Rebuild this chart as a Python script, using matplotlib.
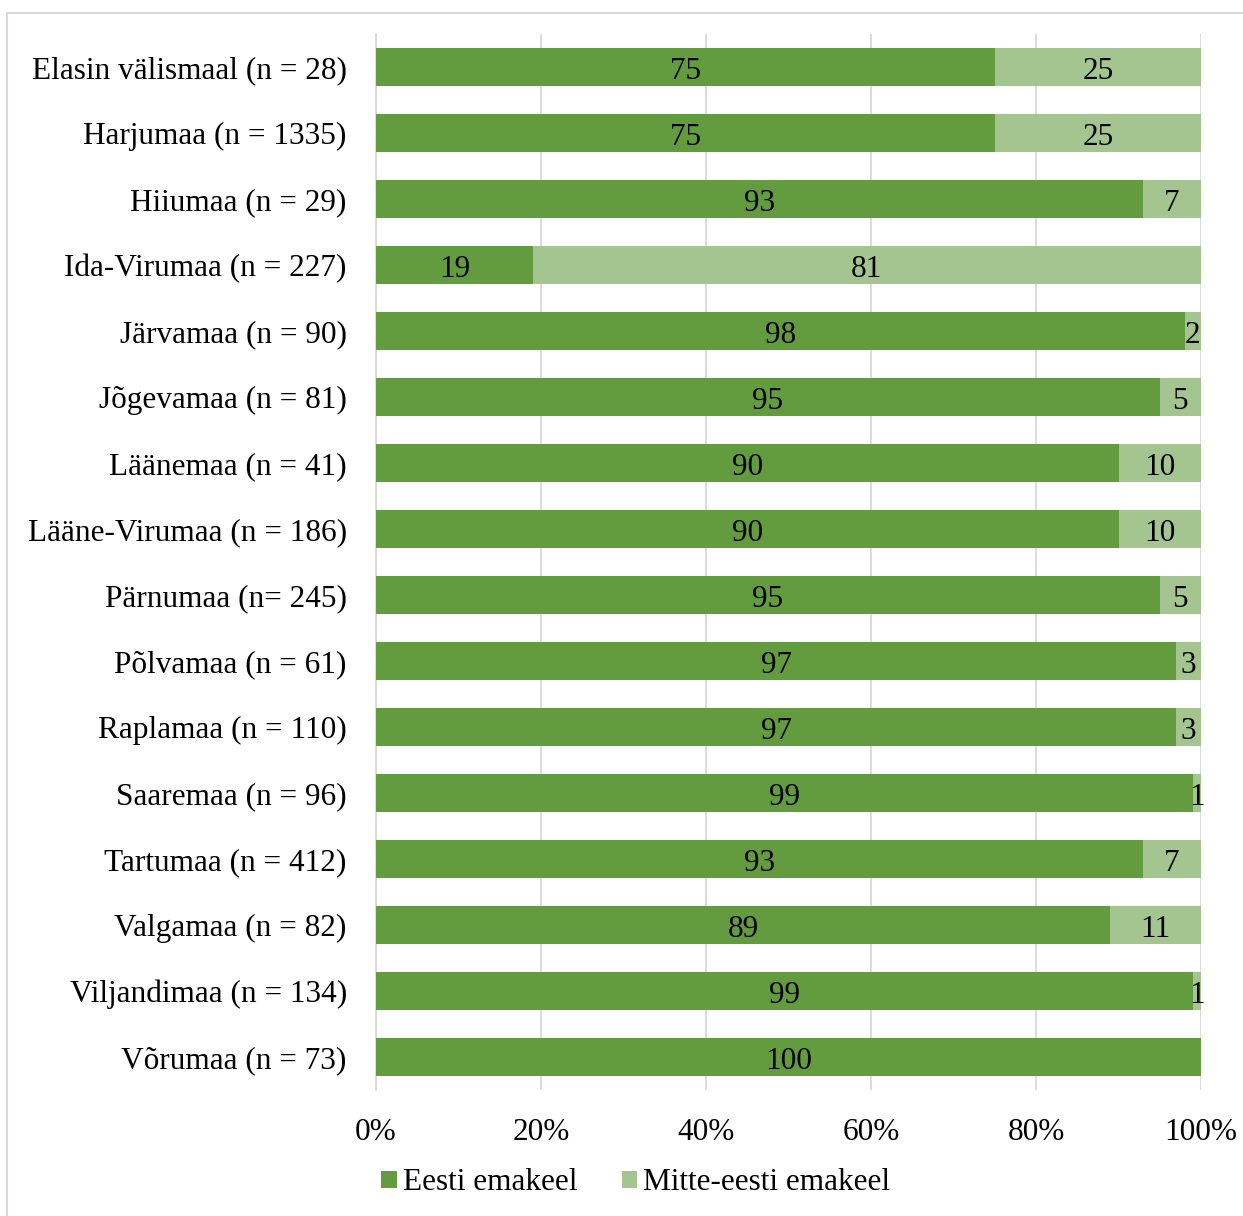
import numpy as np
import matplotlib
matplotlib.use('Agg')
import matplotlib.pyplot as plt
import matplotlib.patches as mpatches

# ── Data ──────────────────────────────────────────────────────────────────────
regions = [
    "Elasin välismaal (n = 28)", "Harjumaa (n = 1335)", "Hiiumaa (n = 29)",
    "Ida-Virumaa (n = 227)", "Järvamaa (n = 90)", "Jõgevamaa (n = 81)",
    "Läänemaa (n = 41)", "Lääne-Virumaa (n = 186)", "Pärnumaa (n= 245)",
    "Põlvamaa (n = 61)", "Raplamaa (n = 110)", "Saaremaa (n = 96)",
    "Tartumaa (n = 412)", "Valgamaa (n = 82)", "Viljandimaa (n = 134)",
    "Võrumaa (n = 73)",
]
eesti = [75, 75, 93, 19, 98, 95, 90, 90, 95, 97, 97, 99, 93, 89, 99, 100]
mitte = [25, 25, 7, 81, 2, 5, 10, 10, 5, 3, 3, 1, 7, 11, 1, 0]
series_names = ["Eesti emakeel", "Mitte-eesti emakeel"]

# ── Style ─────────────────────────────────────────────────────────────────────
COL_DARK = "#639B3F"
COL_LIGHT = "#A4C590"
COL_GRID = "#D9D9D9"
FS = 22.5
plt.rcParams['font.family'] = ['Liberation Serif', 'DejaVu Serif']

W, H = 1243, 1216
fig = plt.figure(figsize=(W / 100, H / 100), dpi=100, facecolor='white')

# outer chart frame
fig.add_artist(mpatches.Rectangle((7 / W, -0.05), 1.1, 1 - 13 / H + 0.05,
                                  transform=fig.transFigure, fill=False,
                                  edgecolor=COL_GRID, lw=1.5))

ax = fig.add_axes([376 / W, 1 - 1090 / H, (1201 - 376) / W, (1090 - 34) / H])
y = np.arange(len(regions))
e = np.array(eesti)
m = np.array(mitte)

b1 = ax.barh(y, e, height=0.575, color=COL_DARK, label=series_names[0], zorder=3)
b2 = ax.barh(y, m, left=e, height=0.575, color=COL_LIGHT, label=series_names[1], zorder=3)

# value labels sit a touch below the bar centre, as in the original
for yi, ev, mv in zip(y, e, m):
    if ev > 0:
        ax.text(ev / 2, yi + 0.07, f"{ev}", ha='center', va='center', fontsize=FS, zorder=4)
    if mv > 0:
        ax.text(ev + mv / 2, yi + 0.07, f"{mv}", ha='center', va='center', fontsize=FS, zorder=4)

ax.set_xlim(0, 100)
ax.set_ylim(len(regions) - 0.5, -0.5)
ax.set_xticks(np.arange(0, 101, 20))
ax.set_xticklabels([f"{v}%" for v in range(0, 101, 20)])
ax.set_yticks(y)
ax.set_yticklabels(regions)
ax.tick_params(axis='both', length=0, labelsize=FS)
ax.tick_params(axis='x', pad=20)
ax.tick_params(axis='y', pad=21)
ax.grid(axis='x', color=COL_GRID, lw=1.3, zorder=0)
for s in ['top', 'right', 'bottom']:
    ax.spines[s].set_visible(False)
ax.spines['left'].set_color(COL_GRID)
ax.spines['left'].set_linewidth(1.3)

fig.legend(handles=[b1, b2], loc='center', bbox_to_anchor=(636 / W, 1 - 1183 / H),
           ncol=2, frameon=False, fontsize=FS, handlelength=0.5, handleheight=0.5,
           handletextpad=0.2, columnspacing=1.4)

plt.savefig("out.png", dpi=100, facecolor='white')
plt.close()
